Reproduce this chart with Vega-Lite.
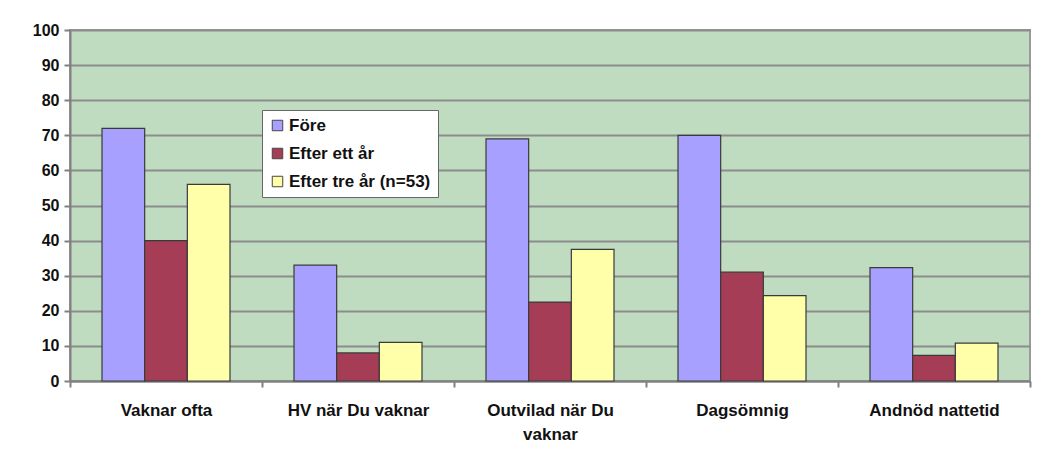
{
  "$schema": "https://vega.github.io/schema/vega-lite/v6.json",
  "autosize": {"type": "none"},
  "padding": {"left": 70, "top": 30, "right": 19, "bottom": 82},
  "width": 960,
  "height": 351,
  "background": "white",
  "config": {
    "view": {"fill": "#C0DCC0", "stroke": "#9a9a9a", "strokeWidth": 2},
    "font": "Liberation Sans"
  },
  "data": {
    "values": [
      {"kategori": "Vaknar ofta", "serie": "Före", "varde": 72},
      {"kategori": "Vaknar ofta", "serie": "Efter ett år", "varde": 40},
      {"kategori": "Vaknar ofta", "serie": "Efter tre år (n=53)", "varde": 56},
      {"kategori": "HV när Du vaknar", "serie": "Före", "varde": 33},
      {"kategori": "HV när Du vaknar", "serie": "Efter ett år", "varde": 8},
      {"kategori": "HV när Du vaknar", "serie": "Efter tre år (n=53)", "varde": 11},
      {"kategori": "Outvilad när Du vaknar", "serie": "Före", "varde": 69},
      {"kategori": "Outvilad när Du vaknar", "serie": "Efter ett år", "varde": 22.5},
      {"kategori": "Outvilad när Du vaknar", "serie": "Efter tre år (n=53)", "varde": 37.5},
      {"kategori": "Dagsömnig", "serie": "Före", "varde": 70},
      {"kategori": "Dagsömnig", "serie": "Efter ett år", "varde": 31},
      {"kategori": "Dagsömnig", "serie": "Efter tre år (n=53)", "varde": 24.3},
      {"kategori": "Andnöd nattetid", "serie": "Före", "varde": 32.3},
      {"kategori": "Andnöd nattetid", "serie": "Efter ett år", "varde": 7.3},
      {"kategori": "Andnöd nattetid", "serie": "Efter tre år (n=53)", "varde": 10.8}
    ]
  },
  "mark": {"type": "bar", "stroke": "#3a3a3a", "strokeWidth": 1.2},
  "encoding": {
    "x": {
      "field": "kategori",
      "type": "nominal",
      "sort": null,
      "scale": {"paddingInner": 0, "paddingOuter": 0},
      "axis": {
        "title": null,
        "labelAngle": 0,
        "labelFont": "Liberation Sans",
        "labelFontWeight": "bold",
        "labelFontSize": 17,
        "labelColor": "#111",
        "labelPadding": 15,
        "labelLineHeight": 24,
        "labelExpr": "datum.label == 'Outvilad när Du vaknar' ? ['Outvilad när Du', 'vaknar'] : datum.label",
        "tickBand": "extent",
        "tickSize": 6,
        "tickColor": "#808080",
        "tickWidth": 2,
        "domainColor": "#808080",
        "domainWidth": 2,
        "grid": false
      }
    },
    "xOffset": {
      "field": "serie",
      "type": "nominal",
      "sort": ["Före", "Efter ett år", "Efter tre år (n=53)"],
      "scale": {"paddingInner": 0, "paddingOuter": 0.75}
    },
    "y": {
      "field": "varde",
      "type": "quantitative",
      "scale": {"domain": [0, 100], "nice": false},
      "axis": {
        "title": null,
        "values": [0, 10, 20, 30, 40, 50, 60, 70, 80, 90, 100],
        "labelFont": "Liberation Sans",
        "labelFontWeight": "bold",
        "labelFontSize": 16,
        "labelColor": "#111",
        "labelPadding": 5,
        "tickSize": 6,
        "tickColor": "#808080",
        "tickWidth": 2,
        "domainColor": "#808080",
        "domainWidth": 2,
        "gridColor": "#8c8c8c",
        "gridWidth": 2
      }
    },
    "color": {
      "field": "serie",
      "type": "nominal",
      "sort": ["Före", "Efter ett år", "Efter tre år (n=53)"],
      "scale": {
        "domain": ["Före", "Efter ett år", "Efter tre år (n=53)"],
        "range": ["#A8A0FF", "#A63D56", "#FFFFAA"]
      },
      "legend": {
        "title": null,
        "orient": "none",
        "legendX": 192,
        "legendY": 80,
        "fillColor": "white",
        "strokeColor": "#666",
        "padding": 7,
        "symbolType": "square",
        "symbolSize": 110,
        "symbolStrokeColor": "#444",
        "symbolStrokeWidth": 1,
        "labelFont": "Liberation Sans",
        "labelFontWeight": "bold",
        "labelFontSize": 17,
        "labelColor": "#111",
        "labelOffset": 3,
        "rowPadding": 10
      }
    }
  }
}
